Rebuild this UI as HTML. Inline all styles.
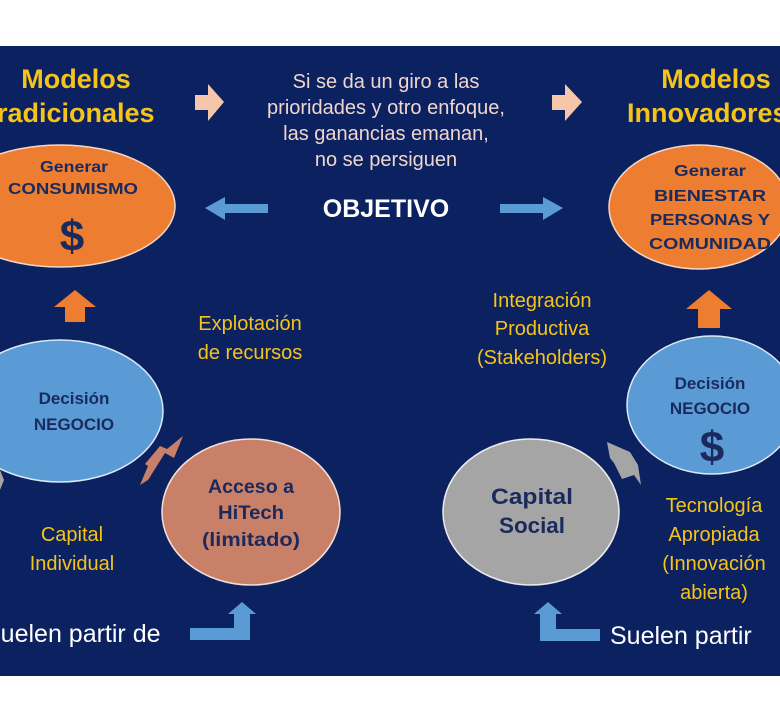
<!DOCTYPE html>
<html><head><meta charset="utf-8"><style>
html,body{margin:0;padding:0;background:#fff;}
svg{display:block;}
text{font-family:"Liberation Sans",sans-serif;}
.b{font-weight:bold;}
</style></head><body>
<svg width="780" height="720" viewBox="0 0 780 720" xmlns="http://www.w3.org/2000/svg">
<rect x="0" y="0" width="780" height="720" fill="#fff"/>
<rect x="0" y="46" width="780" height="630" fill="#0c215f"/>

<!-- titles -->
<g class="b" style="font-weight:bold" fill="#f5c41a" font-size="27">
<text x="76" y="88" text-anchor="middle">Modelos</text>
<text x="-12" y="122">tradicionales</text>
<text x="716" y="88" text-anchor="middle">Modelos</text>
<text x="627" y="122">Innovadores</text>
</g>

<!-- peach arrows -->
<polygon points="195,95 208,95 208,84 224,102 208,121 208,110 195,110" fill="#f6c6aa"/>
<polygon points="552,95 565,95 565,84 582,102 565,121 565,110 552,110" fill="#f6c6aa"/>

<!-- center text -->
<g fill="#efd6cc" font-size="20" text-anchor="middle">
<text x="386" y="88">Si se da un giro a las</text>
<text x="386" y="114">prioridades y otro enfoque,</text>
<text x="386" y="140">las ganancias emanan,</text>
<text x="386" y="166">no se persiguen</text>
</g>
<text x="386" y="217" fill="#fff" style="font-weight:bold" font-size="25" text-anchor="middle">OBJETIVO</text>

<!-- blue horizontal arrows -->
<polygon points="268,204 225,204 225,197 205,208 225,220 225,213 268,213" fill="#5b9bd5"/>
<polygon points="500,204 543,204 543,197 563,208 543,220 543,213 500,213" fill="#5b9bd5"/>

<!-- ellipses -->
<ellipse cx="60" cy="206" rx="115" ry="61" fill="#ed7d31" stroke="#f3d8c8" stroke-width="1.5"/>
<ellipse cx="699" cy="207" rx="90" ry="62" fill="#ed7d31" stroke="#f3d8c8" stroke-width="1.5"/>
<ellipse cx="60" cy="411" rx="103" ry="71" fill="#5b9bd5" stroke="#dce9f5" stroke-width="1.5"/>
<ellipse cx="712" cy="405" rx="85" ry="69" fill="#5b9bd5" stroke="#dce9f5" stroke-width="1.5"/>
<ellipse cx="251" cy="512" rx="89" ry="73" fill="#c98069" stroke="#f2e0d8" stroke-width="1.5"/>
<ellipse cx="531" cy="512" rx="88" ry="73" fill="#a5a5a5" stroke="#ececec" stroke-width="1.5"/>

<!-- ellipse texts -->
<g fill="#1b2a5c" style="font-weight:bold" text-anchor="middle">
<text x="74" y="172" font-size="16" textLength="68" lengthAdjust="spacingAndGlyphs">Generar</text>
<text x="73" y="194" font-size="16" textLength="130" lengthAdjust="spacingAndGlyphs">CONSUMISMO</text>
<text x="710" y="176" font-size="16" textLength="72" lengthAdjust="spacingAndGlyphs">Generar</text>
<text x="710" y="201" font-size="16" textLength="112" lengthAdjust="spacingAndGlyphs">BIENESTAR</text>
<text x="710" y="225" font-size="16" textLength="120" lengthAdjust="spacingAndGlyphs">PERSONAS Y</text>
<text x="710" y="249" font-size="16" textLength="122" lengthAdjust="spacingAndGlyphs">COMUNIDAD</text>
<text x="251" y="493" font-size="19" textLength="86" lengthAdjust="spacingAndGlyphs">Acceso a</text>
<text x="251" y="519" font-size="19" textLength="66" lengthAdjust="spacingAndGlyphs">HiTech</text>
<text x="251" y="546" font-size="19" textLength="98" lengthAdjust="spacingAndGlyphs">(limitado)</text>
<text x="532" y="504" font-size="22" textLength="82" lengthAdjust="spacingAndGlyphs">Capital</text>
<text x="532" y="533" font-size="22" textLength="66" lengthAdjust="spacingAndGlyphs">Social</text>
<text x="74" y="404" font-size="17">Decisión</text>
<text x="74" y="430" font-size="17">NEGOCIO</text>
<text x="710" y="389" font-size="17">Decisión</text>
<text x="710" y="414" font-size="17">NEGOCIO</text>
<text x="72" y="251" font-size="44">$</text>
<text x="712" y="462" font-size="44">$</text>
</g>

<!-- orange up arrows -->
<polygon points="75,290 96,307 85,307 85,322 65,322 65,307 54,307" fill="#ed7d31"/>
<polygon points="709,290 732,309 720,309 720,328 698,328 698,309 686,309" fill="#ed7d31"/>

<!-- diagonal arrows -->
<polygon points="183,436 174,458 165,453 148,480 140,485 148,466 145,464 160,446 167,449" fill="#c98069"/>
<polygon points="607,442 630,452 638,465 641,485 634,475 622,479 614,463 610,458" fill="#a5a5a5"/>
<polygon points="0,470 4,480 0,490" fill="#a5a5a5"/>

<!-- yellow labels -->
<g fill="#f5c41a" font-size="20" text-anchor="middle">
<text x="250" y="330">Explotación</text>
<text x="250" y="359">de recursos</text>
<text x="542" y="307">Integración</text>
<text x="542" y="335">Productiva</text>
<text x="542" y="364">(Stakeholders)</text>
<text x="72" y="541">Capital</text>
<text x="72" y="570">Individual</text>
<text x="714" y="512">Tecnología</text>
<text x="714" y="541">Apropiada</text>
<text x="714" y="570">(Innovación</text>
<text x="714" y="599">abierta)</text>
</g>

<!-- suelen partir -->
<g fill="#fff" font-size="25">
<text x="-16" y="642">Suelen partir de</text>
<text x="610" y="644">Suelen partir</text>
</g>
<!-- elbow arrows -->
<polygon points="190,628 234,628 234,614 228,614 242,602 256,614 250,614 250,640 190,640" fill="#5b9bd5"/>
<polygon points="600,629 556,629 556,614 562,614 548,602 534,614 540,614 540,641 600,641" fill="#5b9bd5"/>
</svg>
</body></html>
